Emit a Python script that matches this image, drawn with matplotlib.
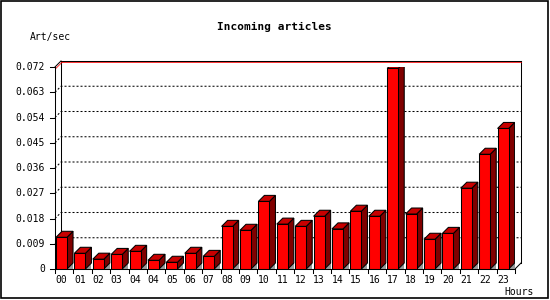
import matplotlib
matplotlib.use("Agg")
import matplotlib.pyplot as plt
from matplotlib.patches import Polygon, Rectangle

plt.rcParams['font.family'] = ['DejaVu Sans Mono']
plt.rcParams['lines.scale_dashes'] = False

# data
hours = ["00", "01", "02", "03", "04", "04", "05", "06", "07", "08", "09", "10",
         "11", "12", "13", "14", "15", "16", "17", "18", "19", "20", "21", "22", "23"]
art_sec = [0.0113, 0.0056, 0.0035, 0.0052, 0.0063, 0.0031, 0.0024, 0.0056, 0.0045,
           0.0152, 0.0138, 0.0241, 0.0160, 0.0152, 0.0188, 0.0143, 0.0206, 0.0188,
           0.0715, 0.0196, 0.0106, 0.0127, 0.0288, 0.0409, 0.0501]
yticks = [0, 0.009, 0.018, 0.027, 0.036, 0.045, 0.054, 0.063, 0.072]
ytick_labels = ["0", "0.009", "0.018", "0.027", "0.036", "0.045", "0.054", "0.063", "0.072"]

W, H = 550, 300
fig = plt.figure(figsize=(W / 100, H / 100), dpi=100)
ax = fig.add_axes([55 / W, 31 / H, 460 / W, 202 / H])
n = len(hours)
ymax = yticks[-1]
ax.set_xlim(0, n)
ax.set_ylim(0, ymax)
ax.axis('off')

# 3d depth: 6 px right, 6 px up
dx = 6 / 18.4
dy = 6 * ymax / 202
px_y = ymax / 202
lw = 0.75

# back wall
ax.plot([dx, dx], [dy, ymax + dy], color='black', lw=lw, clip_on=False)
ax.plot([n + dx, n + dx], [dy, ymax + dy], color='black', lw=lw, clip_on=False)
ax.plot([n + dx, n], [dy, 0], color='black', lw=lw, clip_on=False)
ax.plot([dx, n + dx], [ymax + dy - 1.2 * px_y, ymax + dy - 1.2 * px_y], color='red', lw=0.55,
        clip_on=False)
ax.plot([dx, n + dx], [ymax + dy, ymax + dy], color='black', lw=lw, clip_on=False)
ax.plot([0.06, dx + 0.06], [ymax - 1.2 * px_y, ymax + dy - 1.2 * px_y], color='red', lw=0.55,
        clip_on=False)
ax.plot([0, dx], [ymax, ymax + dy], color='black', lw=lw, clip_on=False)

# grid on back wall
for v in yticks[1:-1]:
    ax.plot([0, dx, n + dx], [v, v + dy, v + dy], color='black', lw=lw,
            dashes=(1.44, 1.44), clip_on=False)

# bars
bw = 0.6
off = 0.054
for i, v in enumerate(art_sec):
    x0 = i + off
    x1 = x0 + bw
    ax.add_patch(Polygon([(x1, 0), (x1 + dx, 0), (x1 + dx, dy)], closed=True,
                         facecolor='#999999', edgecolor='none', zorder=2))
    ax.add_patch(Polygon([(x1, 0), (x1 + dx, dy), (x1 + dx, v + dy), (x1, v)], closed=True,
                         facecolor='#800000', edgecolor='black', lw=lw, zorder=3))
    ax.add_patch(Polygon([(x0, v), (x0 + dx, v + dy), (x1 + dx, v + dy), (x1, v)], closed=True,
                         facecolor='#c80000', edgecolor='black', lw=lw, zorder=3))
    ax.add_patch(Rectangle((x0, 0), bw, v, facecolor='#ff0000', edgecolor='black',
                           lw=lw, zorder=4))

# front axes
ax.plot([0, 0], [0, ymax], color='black', lw=lw, clip_on=False, zorder=5)
ax.plot([0, n], [0, 0], color='black', lw=lw, clip_on=False, zorder=5)
tick_x = 0.27
tick_y = 4 * px_y
for v, lab in zip(yticks, ytick_labels):
    ax.plot([-tick_x, 0], [v, v], color='black', lw=lw, clip_on=False)
    ax.text(-0.55, v, lab, ha='right', va='center', fontsize=7)
for i in range(n + 1):
    ax.plot([i, i], [0, -tick_y], color='black', lw=lw, clip_on=False)
for i, lab in enumerate(hours):
    ax.text(i + off + bw / 2, -11 * px_y, lab, ha='center', va='center', fontsize=7)

fig.text(274 / W, 1 - 27 / H, "Incoming articles", ha='center', va='center',
         fontsize=8, fontweight='bold')
fig.text(30 / W, 1 - 37 / H, "Art/sec", ha='left', va='center', fontsize=7)
fig.text(534 / W, 1 - 292 / H, "Hours", ha='right', va='center', fontsize=7)

fig.add_artist(Rectangle((0.5 / W, 2 / H), 547.5 / W, 297.5 / H, transform=fig.transFigure,
                         fill=False, edgecolor='black', lw=1.2))

fig.savefig("out.png", dpi=100)
